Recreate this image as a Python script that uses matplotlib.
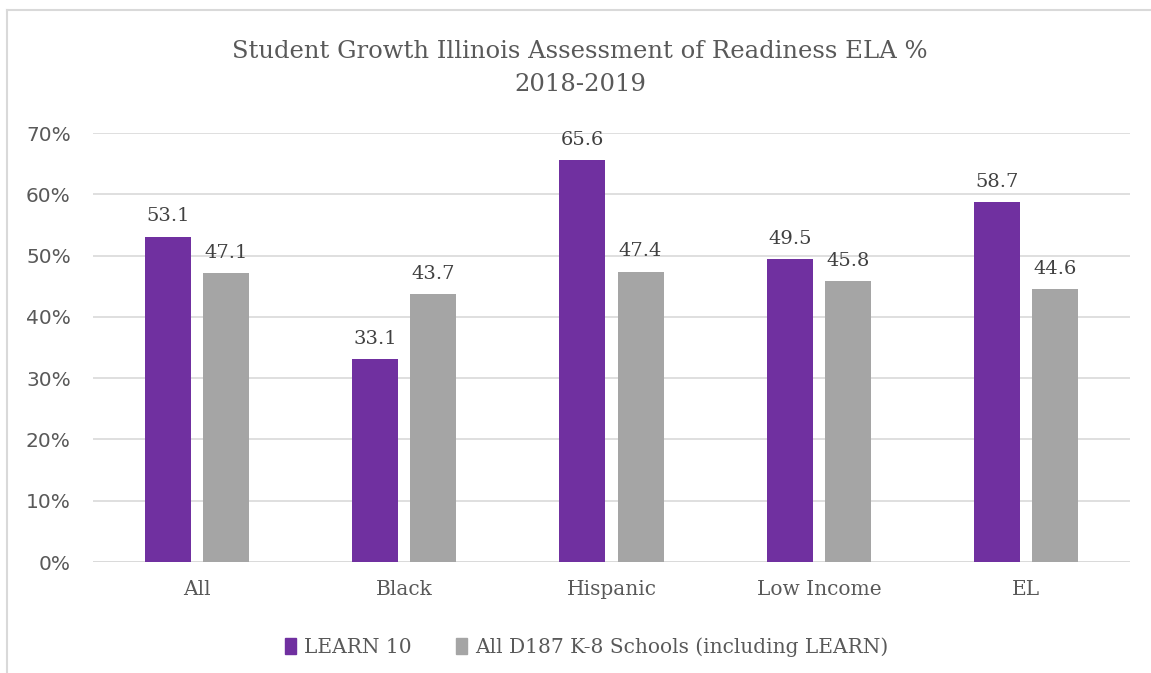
import matplotlib
matplotlib.use("Agg")
import matplotlib.pyplot as plt
from matplotlib.lines import Line2D
from matplotlib.patches import Patch
import numpy as np

categories = ["All", "Black", "Hispanic", "Low Income", "EL"]
learn10 = [53.1, 33.1, 65.6, 49.5, 58.7]
d187 = [47.1, 43.7, 47.4, 45.8, 44.6]
series_names = ["LEARN 10", "All D187 K-8 Schools (including LEARN)"]
yticks = [0, 10, 20, 30, 40, 50, 60, 70]
title = "Student Growth Illinois Assessment of Readiness ELA %\n2018-2019"

PURPLE = "#7030A0"
GRAY = "#A5A5A5"
TXT = "#595959"
SERIF = ["DejaVu Serif"]

W, H = 1151, 673
fig = plt.figure(figsize=(W / 100, H / 100), dpi=100)
ax = fig.add_axes([93 / W, 1 - 562 / H, (1130 - 93) / W, (562 - 133) / H])

x = np.arange(len(categories))
bw = 0.222
gap = 0.058
off = (bw + gap) / 2
b1 = ax.bar(x - off, learn10, bw, color=PURPLE, label=series_names[0])
b2 = ax.bar(x + off, d187, bw, color=GRAY, label=series_names[1])

for bars, vals in ((b1, learn10), (b2, d187)):
    for r, v in zip(bars, vals):
        ax.annotate(f"{v:.1f}", (r.get_x() + r.get_width() / 2, v),
                    xytext=(0, 8), textcoords="offset points",
                    ha="center", va="bottom", fontsize=14, color="#404040",
                    family=SERIF)

ax.set_xlim(-0.5, len(categories) - 0.5)
ax.set_ylim(0, 70)
ax.set_yticks(yticks)
ax.set_yticklabels([f"{t}%" for t in yticks], fontsize=14.5, color=TXT)
ax.set_xticks(x)
ax.set_xticklabels(categories, fontsize=14.5, color=TXT, family=SERIF)
ax.tick_params(axis="both", length=0)
ax.tick_params(axis="y", pad=16)
ax.tick_params(axis="x", pad=13)
ax.grid(axis="y", color="#D9D9D9", linewidth=1.2)
ax.set_axisbelow(True)
for s in ax.spines.values():
    s.set_visible(False)
ax.axhline(0, color="#D9D9D9", linewidth=1.2, zorder=0)

fig.text(580 / W, 1 - 68 / H, title, ha="center", va="center", fontsize=17.5,
         color=TXT, family=SERIF, linespacing=1.6)

handles = [Patch(color=PURPLE), Patch(color=GRAY)]
fig.legend(handles, series_names, loc="center", bbox_to_anchor=(587 / W, 1 - 647 / H),
           ncol=2, frameon=False, handlelength=0.55, handleheight=0.9,
           handletextpad=0.4, columnspacing=2.2, labelcolor=TXT,
           prop={"family": SERIF, "size": 14.5})

# chart border
fig.add_artist(Line2D([7 / W, 1], [1 - 10 / H, 1 - 10 / H], color="#D9D9D9", lw=1.5))
fig.add_artist(Line2D([7 / W, 7 / W], [0, 1 - 10 / H], color="#D9D9D9", lw=1.5))

fig.savefig("out.png", dpi=100, facecolor="white")
